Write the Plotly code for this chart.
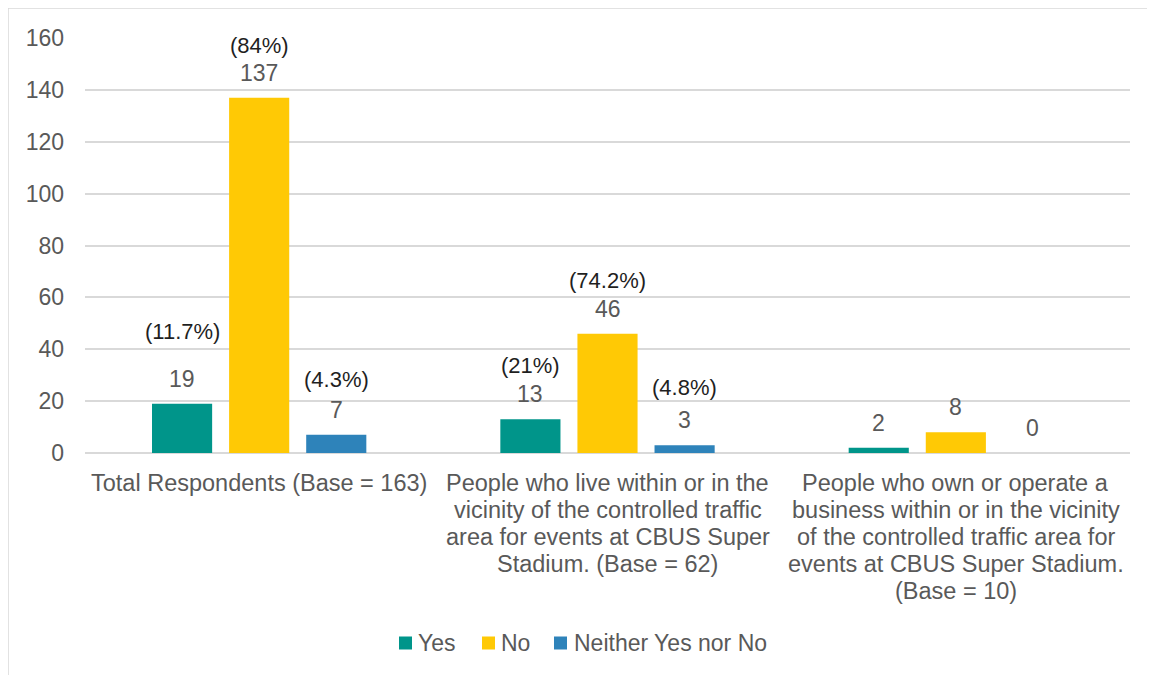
import plotly.graph_objects as go

categories = [
    "Total Respondents (Base = 163)",
    "People who live within or in the<br>vicinity of the controlled traffic<br>area for events at CBUS Super<br>Stadium. (Base = 62)",
    "People who own or operate a<br>business within or in the vicinity<br>of the controlled traffic area for<br>events at CBUS Super Stadium.<br>(Base = 10)",
]
series_names = ["Yes", "No", "Neither Yes nor No"]
yes_values = [19, 13, 2]
no_values = [137, 46, 8]
neither_values = [7, 3, 0]
yes_pct = ["(11.7%)", "(21%)", ""]
no_pct = ["(84%)", "(74.2%)", ""]
neither_pct = ["(4.3%)", "(4.8%)", ""]

colors = ["#00958A", "#FFC905", "#2E83BA"]
pct_shift = [[72, 54, 0], [52, 53, 0], [55, 58, 0]]

bargap = 0.336
series_values = [yes_values, no_values, neither_values]
series_pct = [yes_pct, no_pct, neither_pct]

# page has an 8px body margin; work in figure pixels
W, H = 1147, 667
L, T = 77, 30
ph = 415
pw = 1045
R = W - L - pw
B = H - T - ph


def px2x(X):
    return (X - L) / pw


def px2y(Y):
    return (H - B - Y) / ph


fig = go.Figure()
for name, vals, col in zip(series_names, series_values, colors):
    fig.add_trace(go.Bar(name=name, x=list(range(len(categories))), y=vals,
                         marker=dict(color=col, line=dict(width=0)), showlegend=False))

slot = (1 - bargap) / 3
annotations = []
for s, (vals, pcts) in enumerate(zip(series_values, series_pct)):
    off = (s - 1) * slot
    for i, v in enumerate(vals):
        annotations.append(dict(x=i + off, y=v, xref="x", yref="y", text=str(v),
                                showarrow=False, yanchor="middle", yshift=25,
                                font=dict(size=23, color="#595959")))
        if pcts[i]:
            annotations.append(dict(x=i + off, y=v, xref="x", yref="y", text=pcts[i],
                                    showarrow=False, yanchor="middle", yshift=pct_shift[s][i],
                                    font=dict(size=22, color="#1f1f1f")))

# category labels (tight line spacing as in reference)
for i, cat in enumerate(categories):
    for k, line in enumerate(cat.split("<br>")):
        annotations.append(dict(x=i, y=0, xref="x", yref="y", text=line, showarrow=False,
                                xanchor="center", yanchor="middle", yshift=-(30 + 27 * k),
                                font=dict(size=23.5, color="#595959")))

# legend (compact, as in reference)
legend_sq_x = [391, 474, 546]
legend_text_x = [408, 491, 564]
legend_y = 635
shapes = []
for name, col, sx, tx in zip(series_names, colors, legend_sq_x, legend_text_x):
    shapes.append(dict(type="rect", xref="paper", yref="paper",
                       x0=px2x(sx), x1=px2x(sx + 13), y0=px2y(legend_y + 6.5), y1=px2y(legend_y - 6.5),
                       fillcolor=col, line=dict(width=0)))
    annotations.append(dict(x=px2x(tx), y=px2y(legend_y), xref="paper", yref="paper",
                            text=name, showarrow=False, xanchor="left", yanchor="middle",
                            font=dict(size=23, color="#595959")))

# outer border
shapes.append(dict(type="line", xref="paper", yref="paper", x0=px2x(0), x1=px2x(W + 5),
                   y0=px2y(0), y1=px2y(0), line=dict(color="#d9d9d9", width=1.5)))
shapes.append(dict(type="line", xref="paper", yref="paper", x0=px2x(0), x1=px2x(0),
                   y0=px2y(0), y1=px2y(H + 5), line=dict(color="#d9d9d9", width=1.5)))

fig.update_layout(
    width=W, height=H,
    margin=dict(l=L, r=R, t=T, b=B),
    barmode="group", bargap=bargap, bargroupgap=0.22,
    plot_bgcolor="white", paper_bgcolor="white",
    font=dict(family="Liberation Sans, Arial, sans-serif", size=22, color="#595959"),
    annotations=annotations,
    shapes=shapes,
    showlegend=False,
    xaxis=dict(tickmode="array", tickvals=list(range(len(categories))), ticktext=categories,
               showticklabels=False,
               range=[-0.5, 2.5], showgrid=False, zeroline=False, showline=False),
    yaxis=dict(range=[0, 160], dtick=20, showgrid=True, gridcolor="#d9d9d9", gridwidth=1.5,
               zeroline=True, zerolinecolor="#d9d9d9", zerolinewidth=1.5, showline=False,
               tickfont=dict(size=23, color="#595959"), ticklabelstandoff=20),
)

fig.write_html("out.html")
